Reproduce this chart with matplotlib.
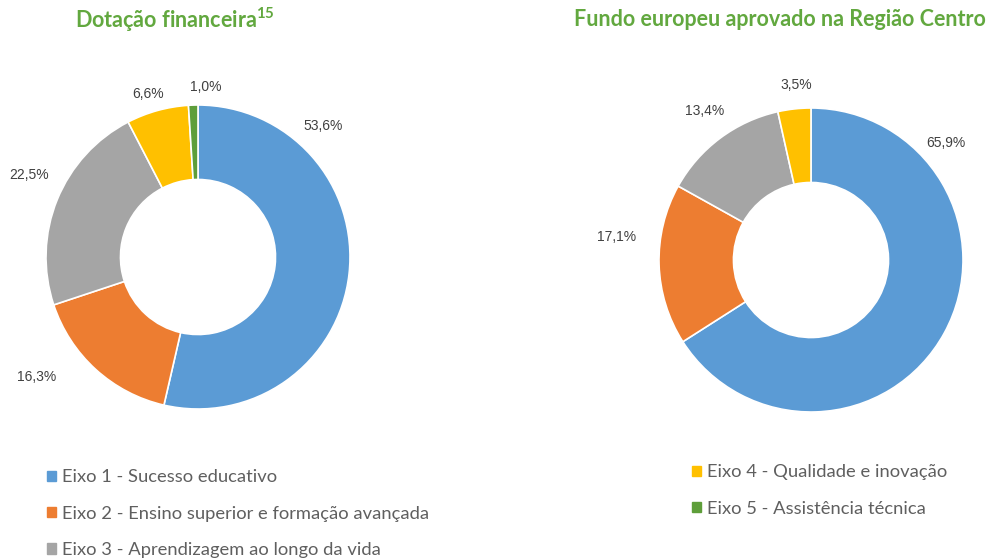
import matplotlib.pyplot as plt
from matplotlib.patches import Patch

# data
eixos = ['Eixo 1 - Sucesso educativo',
         'Eixo 2 - Ensino superior e formação avançada',
         'Eixo 3 - Aprendizagem ao longo da vida',
         'Eixo 4 - Qualidade e inovação',
         'Eixo 5 - Assistência técnica']
dotacao = [53.6, 16.3, 22.5, 6.6, 1.0]
fundo = [65.9, 17.1, 13.4, 3.5]

colors = ['#5B9BD5', '#ED7D31', '#A5A5A5', '#FFC000', '#5E9E3A']
title_color = '#62A83F'
label_color = '#404040'

# label anchors (x, y) in units of the outer radius
pos_left = [(0.82, 0.86), (-1.06, -0.79), (-1.11, 0.54), (-0.33, 1.07), (0.05, 1.12)]
pos_right = [(0.89, 0.77), (-1.28, 0.15), (-0.70, 0.98), (-0.10, 1.15)]

fig = plt.figure(figsize=(9.9, 5.58), dpi=100)


def donut(cx, cy, values, pos, title, tx):
    w = 304 / 990
    h = 304 / 558
    ax = fig.add_axes([cx - w / 2, cy - h / 2, w, h])
    ax.pie(values, colors=colors[:len(values)], startangle=90, counterclock=False,
           wedgeprops=dict(width=0.49, edgecolor='white', linewidth=1.2))
    ax.set_xlim(-1, 1)
    ax.set_ylim(-1, 1)
    ax.set_aspect('equal')
    for v, (x, y) in zip(values, pos):
        ax.text(x, y, f'{v:.1f}%'.replace('.', ','), ha='center', va='center',
                fontsize=10, color=label_color, clip_on=False, family='Liberation Sans')
    fig.text(tx, 1 - 20 / 558, title, ha='center', va='center', fontsize=15.5,
             fontweight='bold', color=title_color, family='Lato')
    return ax


donut(198 / 990, 1 - 257 / 558, dotacao, pos_left, 'Dotação financeira$^{\\mathregular{15}}$', 175 / 990)
donut(811 / 990, 1 - 260 / 558, fundo, pos_right, 'Fundo europeu aprovado na Região Centro', 780 / 990)

handles = [Patch(color=c) for c in colors]
legend_style = dict(loc='upper left', frameon=False, handlelength=0.5, handleheight=0.5,
                    handletextpad=0.35, labelspacing=1.1, labelcolor='#5f5f5f',
                    prop={'family': 'Lato', 'size': 13.2})
fig.legend(handles[:3], eixos[:3], bbox_to_anchor=(30 / 990, 1 - 453 / 558), **legend_style)
fig.legend(handles[3:], eixos[3:], bbox_to_anchor=(675 / 990, 1 - 448 / 558), **legend_style)

fig.savefig('out.png', dpi=100)
